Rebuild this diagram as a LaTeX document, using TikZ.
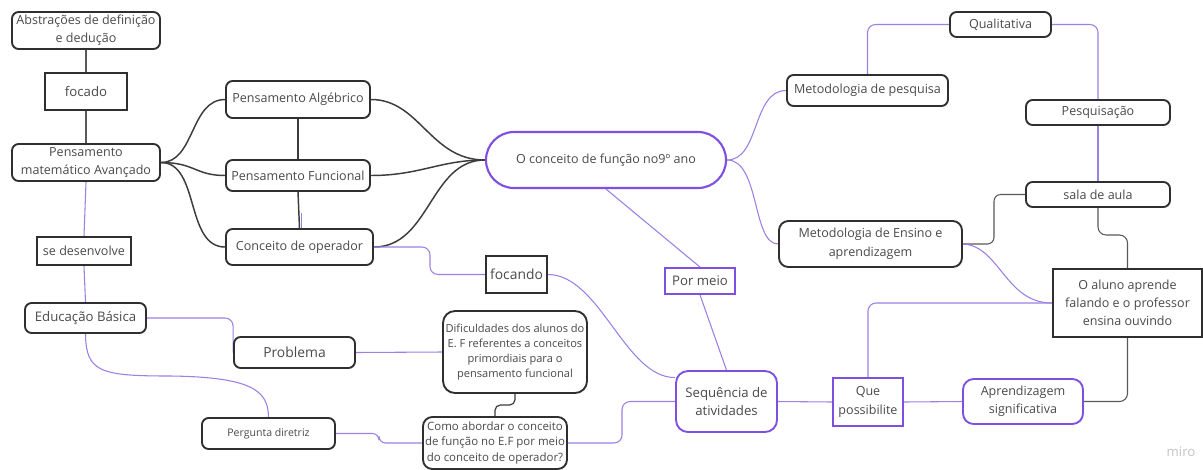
\documentclass[tikz,border=0pt]{standalone}
\usepackage{fontspec}
\setmainfont{Open Sans}
\usetikzlibrary{backgrounds}
\definecolor{ink}{HTML}{2F2F2F}
\definecolor{txt}{HTML}{4A4A4A}
\definecolor{vio}{HTML}{7E50E0}
\definecolor{viol}{HTML}{9C80E4}
\definecolor{greyline}{HTML}{3C3C3C}
\definecolor{mark}{HTML}{C4C4C4}
\tikzset{
  fs/.style={font=\fontsize{#1}{13.5}\selectfont},
  box/.style={draw=ink, line width=1.4pt, rounded corners=5pt, fill=white,
    text=txt, align=center, inner sep=0pt, fs=9.4},
  sq/.style={box, rounded corners=0pt},
  vbox/.style={box, draw=vio},
  vsq/.style={sq, draw=vio},
  sz/.style 2 args={minimum width=#1*0.75pt, minimum height=#2*0.75pt},
  link/.style={draw=greyline, line width=1.1pt},
  thinlink/.style={draw=greyline!85, line width=0.8pt},
  vlink/.style={draw=viol, line width=0.8pt},
}
\begin{document}
\begin{tikzpicture}[x=0.75pt,y=-0.75pt]
\useasboundingbox (0,0) rectangle (1203,469);

% left column
\node[box, sz={148}{37}] (abs) at (86,30.5) {Abstrações de definição\\e dedução};
\node[sq, sz={82}{37}, fs=9.9] (foc) at (86,91.5) {focado};
\node[box, sz={148}{37}] (pma) at (86,162.5) {Pensamento\\matemático Avançado};
\node[sq, sz={94}{28}] (sed) at (84,251) {se desenvolve};
\node[box, sz={121}{30}, fs=9.9] (edu) at (85.5,318) {Educação Básica};
\node[box, sz={121}{31}, fs=10.4] (prob) at (294.5,352.5) {Problema};
\node[box, sz={133}{31}, fs=7.9] (perg) at (268.5,433.5) {Pergunta diretriz};

% thinking branches
\node[box, sz={144}{37}] (alg) at (298,99.5) {Pensamento Algébrico};
\node[box, sz={144}{31}] (fun) at (298,175.5) {Pensamento Funcional};
\node[box, sz={147}{36}] (ope) at (299.5,247) {Conceito de operador};

% centre
\node[box, draw=vio, line width=1.6pt, rounded corners=21pt, sz={240}{56}] (cen) at (606,160) {O conceito de função no9º ano};
\node[sq, sz={61}{37}, fs=10.4] (fcd) at (516.5,274.5) {focando};
\node[vsq, sz={70}{26}, fs=9.9] (por) at (700,281) {Por meio};
\node[box, rounded corners=9pt, sz={144}{82}, font=\fontsize{8.3}{11.4}\selectfont] (dif) at (515,352) {Dificuldades dos alunos do\\E. F referentes a conceitos\\primordiais para o\\pensamento funcional};
\node[box, rounded corners=7pt, sz={144}{52}, font=\fontsize{8.6}{11.6}\selectfont] (como) at (495,443) {Como abordar o conceito\\de função no E.F por meio\\do conceito de operador?};
\node[vbox, rounded corners=9pt, sz={101}{61}, font=\fontsize{9.9}{13.5}\selectfont] (seq) at (726.5,401.5) {Sequência de\\atividades};
\node[vsq, sz={70}{48}, font=\fontsize{9.4}{14}\selectfont] (que) at (868,402) {Que\\possibilite};
\node[vbox, rounded corners=8pt, sz={120}{45}, font=\fontsize{9.4}{13.5}\selectfont] (apr) at (1023,401.5) {Aprendizagem\\significativa};

% right side
\node[sq, sz={149}{68}, font=\fontsize{9.4}{13.5}\selectfont] (alu) at (1127.5,303) {O aluno aprende\\falando e o professor\\ensina ouvindo};
\node[box, rounded corners=7pt, sz={183}{46}, font=\fontsize{9.4}{14.5}\selectfont] (men) at (870.5,244) {Metodologia de Ensino e\\aprendizagem};
\node[box, sz={161}{31}] (mpe) at (867.5,90.5) {Metodologia de pesquisa};
\node[box, sz={101}{25}] (qua) at (1000.5,24.5) {Qualitativa};
\node[box, sz={144}{25}] (pes) at (1098,112.5) {Pesquisação};
\node[box, sz={144}{25}] (sal) at (1098,194.5) {sala de aula};

\node[text=mark, fs=9.9, inner sep=0pt] (miro) at (1181,452) {miro};

\begin{scope}[on background layer]
\fill[white] (0,0) rectangle (1203,469);
% left column
\draw[thinlink] (abs.south) -- (foc.north);
\draw[thinlink] (foc.south) -- (pma.north);
\draw[vlink] (pma.south) -- (sed.north);
\draw[vlink] (sed.south) -- (edu.north);
\draw[vlink, rounded corners=6pt] (edu.east) -| (prob.west);
\draw[vlink] (edu.south) .. controls (86,372) and (100,376) .. (170,376)
  .. controls (255,377) and (268,392) .. (perg.north);
\draw[vlink] (prob.east) -- (dif.west);
\draw[vlink, rounded corners=5pt] (perg.east) -- (379,433.5) |- (como.west);
\draw[link, line width=0.9pt, rounded corners=4pt] (dif.south) -- (515,405) -| (como.north);
\draw[vlink, rounded corners=6pt] (como.east) -- (622,443) |- (seq.west);

% thinking branches
\draw[link] (pma.east) .. controls (195,162.5) and (190,99.5) .. (alg.west);
\draw[link] (pma.east) .. controls (195,162.5) and (195,175.5) .. (fun.west);
\draw[link] (pma.east) .. controls (200,162.5) and (185,247) .. (ope.west);
\draw[link] (alg.south) -- (fun.north);
\draw[link] (fun.south) -- (ope.north);
\draw[vlink, line width=1pt] ([xshift=1.5pt]ope.north) -- ++(0,-15);
\draw[link] (alg.east) .. controls (420,99.5) and (430,160) .. (cen.west);
\draw[link] (fun.east) .. controls (420,175.5) and (440,160) .. (cen.west);
\draw[link] (ope.east) .. controls (430,247) and (430,160) .. (cen.west);

% centre
\draw[vlink, rounded corners=6pt] (ope.east) -- (430,247) |- (fcd.west);
\draw[vlink] (fcd.east) .. controls (600,274.5) and (625,378) .. (seq.155);
\draw[vlink] (cen.south) -- (por.north);
\draw[vlink] (por.south) -- (seq.north);
\draw[vlink] (cen.east) .. controls (760,160) and (752,90.5) .. (mpe.west);
\draw[vlink] (cen.east) .. controls (760,160) and (752,244) .. (men.west);

% right side
\draw[vlink, rounded corners=6pt] (mpe.north) |- (qua.west);
\draw[vlink, rounded corners=6pt] (qua.east) -| (pes.north);
\draw[vlink] (pes.south) -- (sal.north);
\draw[thinlink, rounded corners=5pt] (sal.west) -- (994,194.5) |- (men.east);
\draw[thinlink, rounded corners=6pt] (sal.south) -- (1098,235) -| (alu.north);
\draw[vlink] (men.east) .. controls (1000,246) and (1005,303) .. (alu.west);
\draw[vlink, rounded corners=6pt] (alu.west) -| (que.north);
\draw[thinlink, rounded corners=6pt] (alu.south) |- (apr.east);
\draw[vlink] (apr.west) -- (que.east);
\draw[vlink] (que.west) -- (seq.east);
\end{scope}
\end{tikzpicture}
\end{document}
